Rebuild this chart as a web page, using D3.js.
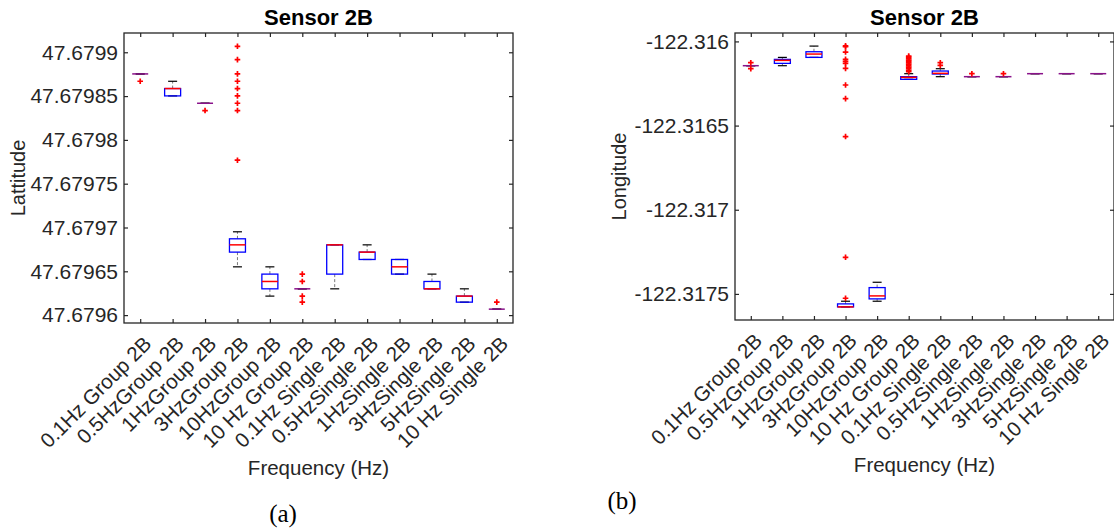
<!DOCTYPE html>
<html><head><meta charset="utf-8">
<script src="https://cdn.jsdelivr.net/npm/d3@7"></script>
<style>
body{margin:0;background:#fff;}
svg{display:block;font-family:"Liberation Sans",Arial,Helvetica,sans-serif;}
</style></head><body>
<svg id="fig" width="1114" height="529"></svg>
<script>
// Test runs (x axis categories)
const categories = ["0.1Hz Group 2B","0.5HzGroup 2B","1HzGroup 2B","3HzGroup 2B","10HzGroup 2B","10 Hz Group 2B",
  "0.1Hz Single 2B","0.5HzSingle 2B","1HzSingle 2B","3HzSingle 2B","5HzSingle 2B","10 Hz Single 2B"];

// Latitude box statistics per run
const latLow  = [47.6798753,47.6798502,47.6798418,47.6796551,47.6796217,47.6796300,47.6796300,47.6796635,47.6796468,47.6796300,47.6796148,47.6796068];
const latQ1   = [47.6798753,47.6798502,47.6798418,47.6796719,47.6796300,47.6796300,47.6796468,47.6796635,47.6796468,47.6796300,47.6796148,47.6796068];
const latMed  = [47.6798753,47.6798586,47.6798418,47.6796802,47.6796384,47.6796300,47.6796802,47.6796719,47.6796551,47.6796300,47.6796217,47.6796068];
const latQ3   = [47.6798753,47.6798586,47.6798418,47.6796871,47.6796468,47.6796300,47.6796802,47.6796719,47.6796635,47.6796384,47.6796217,47.6796068];
const latHigh = [47.6798753,47.6798669,47.6798418,47.6796951,47.6796551,47.6796300,47.6796802,47.6796802,47.6796635,47.6796468,47.6796300,47.6796068];
const latOutliers = [[47.6798669],[],[47.6798335],
  [47.6799068,47.6798916,47.6798753,47.6798669,47.6798586,47.6798502,47.6798418,47.6798335,47.6797768],
  [],[47.6796468,47.6796384,47.6796217,47.6796148],[],[],[],[],[],[47.6796148]];
const latTicks = [47.6796,47.67965,47.6797,47.67975,47.6798,47.67985,47.6799];
const latTickLabels = ["47.6796","47.67965","47.6797","47.67975","47.6798","47.67985","47.6799"];
const latDomain = [47.679591,47.679922];

// Longitude box statistics per run
const lonLow  = [-122.3161443,-122.3161443,-122.3160949,-122.3175771,-122.3175435,-122.3162253,-122.3162095,-122.3162095,-122.3162095,-122.3161917,-122.3161917,-122.3161917];
const lonQ1   = [-122.3161443,-122.3161304,-122.3160949,-122.3175771,-122.3175296,-122.3162253,-122.3161937,-122.3162095,-122.3162095,-122.3161917,-122.3161917,-122.3161917];
const lonMed  = [-122.3161443,-122.3161126,-122.3160751,-122.3175771,-122.3175119,-122.3162134,-122.3161897,-122.3162095,-122.3162095,-122.3161917,-122.3161917,-122.3161917];
const lonQ3   = [-122.3161443,-122.3161067,-122.3160613,-122.3175593,-122.3174625,-122.3162095,-122.3161759,-122.3162095,-122.3162095,-122.3161917,-122.3161917,-122.3161917];
const lonHigh = [-122.3161443,-122.3160949,-122.3160277,-122.3175435,-122.3174308,-122.3161917,-122.3161621,-122.3162095,-122.3162095,-122.3161917,-122.3161917,-122.3161917];
const lonOutliers = [[-122.3161265,-122.3161621],[],[],
  [-122.3160257,-122.3160316,-122.3160632,-122.3161067,-122.3161186,-122.3161304,-122.3161601,-122.3162589,-122.3163399,-122.3165652,-122.3172826,-122.3175257],
  [],
  [-122.3160870,-122.3160949,-122.3161028,-122.3161107,-122.3161186,-122.3161265,-122.3161344,-122.3161443,-122.3161522,-122.3161621,-122.3161720,-122.3161798],
  [-122.3161265,-122.3161423],[-122.3161917],[-122.3161917],[],[],[]];
const lonTicks = [-122.3175,-122.317,-122.3165,-122.316];
const lonTickLabels = ["-122.3175","-122.317","-122.3165","-122.316"];
const lonDomain = [-122.317655,-122.31595];

const svg = d3.select("#fig");
const AX = "#262626";

function drawPanel(p) {
  const x = d3.scalePoint().domain(categories).range([p.left, p.right]).padding(0.5);
  const y = d3.scaleLinear().domain(p.domain).range([p.bottom, p.top]);
  const g = svg.append("g");
  const tickFmt = d => p.tickLabels[p.ticks.indexOf(d)];

  // mirrored ticks on top and right
  g.append("g").attr("transform", `translate(0,${p.top})`)
    .call(d3.axisTop(x).tickSize(-4).tickSizeOuter(0).tickFormat(""));
  g.append("g").attr("transform", `translate(${p.right},0)`)
    .call(d3.axisRight(y).tickValues(p.ticks).tickSize(-4).tickSizeOuter(0).tickFormat(""));

  // left axis
  const ya = g.append("g").attr("transform", `translate(${p.left},0)`)
    .call(d3.axisLeft(y).tickValues(p.ticks).tickSize(-4).tickSizeOuter(0).tickPadding(6).tickFormat(tickFmt));
  ya.selectAll("text").attr("font-size", 21).attr("fill", AX).attr("font-family", "Liberation Sans, Arial, sans-serif");

  // bottom axis with slanted labels
  const xa = g.append("g").attr("transform", `translate(0,${p.bottom})`)
    .call(d3.axisBottom(x).tickSize(-4).tickSizeOuter(0));
  xa.selectAll("text")
    .attr("font-size", 20.5).attr("fill", AX).attr("font-family", "Liberation Sans, Arial, sans-serif")
    .attr("text-anchor", "end").attr("dy", "0.35em").attr("y", 0)
    .attr("transform", "translate(7,17) rotate(-45)");

  g.selectAll(".domain").remove();
  g.selectAll(".tick line").attr("stroke", AX).attr("stroke-width", 1.2);

  // frame
  g.append("rect").attr("x", p.left).attr("y", p.top)
    .attr("width", p.right - p.left).attr("height", p.bottom - p.top)
    .attr("fill", "none").attr("stroke", AX).attr("stroke-width", 1.3);

  const bw = 16, cw = 9;
  const boxes = categories.map((c, i) => ({c, lo: p.low[i], q1: p.q1[i], med: p.med[i], q3: p.q3[i], hi: p.high[i], out: p.out[i]}));
  const bg = g.append("g");
  // whiskers
  bg.selectAll(".wu").data(boxes.filter(d => d.hi > d.q3)).join("line")
    .attr("x1", d => x(d.c)).attr("x2", d => x(d.c))
    .attr("y1", d => y(d.q3)).attr("y2", d => y(d.hi))
    .attr("stroke", "#7a7a7a").attr("stroke-width", 1).attr("stroke-dasharray", "3,2");
  bg.selectAll(".wl").data(boxes.filter(d => d.lo < d.q1)).join("line")
    .attr("x1", d => x(d.c)).attr("x2", d => x(d.c))
    .attr("y1", d => y(d.q1)).attr("y2", d => y(d.lo))
    .attr("stroke", "#7a7a7a").attr("stroke-width", 1).attr("stroke-dasharray", "3,2");
  // caps
  ["hi", "lo"].forEach(k => {
    bg.selectAll(".cap-" + k).data(boxes).join("line")
      .attr("x1", d => x(d.c) - cw / 2).attr("x2", d => x(d.c) + cw / 2)
      .attr("y1", d => y(d[k])).attr("y2", d => y(d[k]))
      .attr("stroke", "#000").attr("stroke-width", 1.2);
  });
  // boxes
  bg.selectAll(".box").data(boxes).join("rect")
    .attr("x", d => x(d.c) - bw / 2).attr("width", bw)
    .attr("y", d => y(d.q3)).attr("height", d => Math.max(0, y(d.q1) - y(d.q3)))
    .attr("fill", "none").attr("stroke", "#0000ff").attr("stroke-width", 1.3);
  // medians
  bg.selectAll(".med").data(boxes).join("line")
    .attr("x1", d => x(d.c) - bw / 2).attr("x2", d => x(d.c) + bw / 2)
    .attr("y1", d => y(d.med)).attr("y2", d => y(d.med))
    .attr("stroke", d => d.q1 === d.q3 ? "#8a128a" : "#ff0000").attr("stroke-width", 1.5);
  // outliers
  const pts = boxes.flatMap(d => d.out.map(v => ({c: d.c, v})));
  bg.selectAll(".out").data(pts).join("path")
    .attr("d", d => `M${x(d.c) - 2.8},${y(d.v)}h5.6M${x(d.c)},${y(d.v) - 2.8}v5.6`)
    .attr("stroke", "#ff0000").attr("stroke-width", 1.7).attr("fill", "none");

  // labels
  svg.append("text").attr("x", (p.left + p.right) / 2).attr("y", 25)
    .attr("text-anchor", "middle").attr("font-size", 22).attr("font-weight", "bold").attr("fill", "#000")
    .text("Sensor 2B");
  svg.append("text").attr("transform", `translate(${p.yLabelX},${(p.top + p.bottom) / 2}) rotate(-90)`)
    .attr("text-anchor", "middle").attr("font-size", 20).attr("fill", AX).text(p.yLabel);
  svg.append("text").attr("x", (p.left + p.right) / 2).attr("y", p.bottom + 152)
    .attr("text-anchor", "middle").attr("font-size", 20.5).attr("fill", AX).text("Frequency (Hz)");
  svg.append("text").attr("x", p.tagX).attr("y", p.tagY)
    .attr("text-anchor", "middle").attr("font-size", 25).attr("fill", "#000")
    .attr("font-family", "Liberation Serif, Times New Roman, serif").text(p.tag);
}

drawPanel({left: 124, right: 513, top: 33, bottom: 323, domain: latDomain,
  ticks: latTicks, tickLabels: latTickLabels,
  low: latLow, q1: latQ1, med: latMed, q3: latQ3, high: latHigh, out: latOutliers,
  yLabel: "Lattitude", yLabelX: 25, tag: "(a)", tagX: 283, tagY: 522});
drawPanel({left: 735, right: 1114, top: 33, bottom: 320, domain: lonDomain,
  ticks: lonTicks, tickLabels: lonTickLabels,
  low: lonLow, q1: lonQ1, med: lonMed, q3: lonQ3, high: lonHigh, out: lonOutliers,
  yLabel: "Longitude", yLabelX: 626, tag: "(b)", tagX: 622, tagY: 509});
</script>
</body></html>
